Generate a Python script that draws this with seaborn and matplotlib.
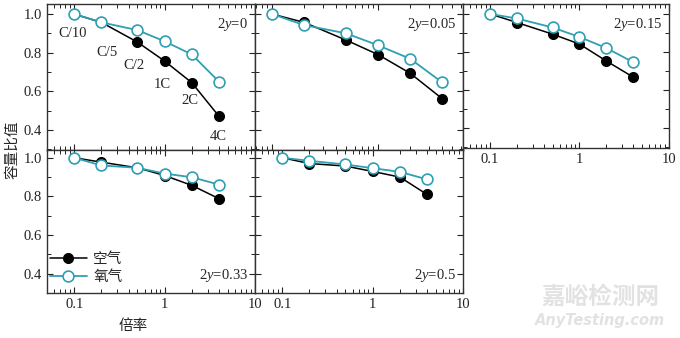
import numpy as np
import pandas as pd
import matplotlib
matplotlib.use("Agg")
import matplotlib.pyplot as plt
import seaborn as sns
from matplotlib.ticker import LogLocator, NullFormatter, FixedLocator, MultipleLocator, FuncFormatter

sns.set_theme(style="ticks")
plt.rcParams['font.family'] = ['Liberation Serif', 'Noto Sans CJK SC', 'DejaVu Sans']
plt.rcParams['mathtext.fontset'] = 'custom'
plt.rcParams['mathtext.rm'] = 'Liberation Serif'
plt.rcParams['mathtext.it'] = 'Liberation Serif:italic'

# ---- data ----
rates = [0.1, 0.2, 0.5, 1, 2, 4]
rate_labels = ["C/10", "C/5", "C/2", "1C", "2C", "4C"]
panel_labels = ["0", "0.05", "0.15", "0.33", "0.5"]
air_y0 = [1.0, 0.957, 0.855, 0.757, 0.645, 0.471]
oxy_y0 = [1.0, 0.957, 0.917, 0.859, 0.791, 0.650]
air_y005 = [1.0, 0.957, 0.865, 0.790, 0.694, 0.563]
oxy_y005 = [1.0, 0.943, 0.900, 0.838, 0.769, 0.647]
air_y015 = [1.0, 0.955, 0.894, 0.842, 0.753, 0.668]
oxy_y015 = [1.0, 0.976, 0.929, 0.879, 0.821, 0.746]
air_y033 = [1.0, 0.977, 0.948, 0.908, 0.857, 0.788]
oxy_y033 = [1.0, 0.960, 0.948, 0.918, 0.899, 0.861]
air_y05 = [1.0, 0.970, 0.957, 0.929, 0.900, 0.810]
oxy_y05 = [1.0, 0.984, 0.965, 0.946, 0.927, 0.888]
series_names = ["空气", "氧气"]

air_all = [air_y0, air_y005, air_y015, air_y033, air_y05]
oxy_all = [oxy_y0, oxy_y005, oxy_y015, oxy_y033, oxy_y05]

W, H = 680, 338
fig = plt.figure(figsize=(W / 100, H / 100), dpi=100)

def rect(l, t, r, b):
    return [l / W, 1 - b / H, (r - l) / W, (b - t) / H]

rects = [rect(47, 4, 255, 150), rect(255, 4, 463, 150), rect(463, 4, 669, 148),
         rect(47, 150, 255, 293), rect(255, 150, 463, 293)]
xlims = [(0.05, 10), (0.069, 6.3), (0.05, 10), (0.05, 10), (0.05, 10)]
ylims = [(0.297, 1.052), (0.297, 1.052), (0.297, 1.052), (0.30, 1.04), (0.30, 1.04)]
show_xlab = [False, False, True, True, True]
show_ylab = [True, False, False, True, False]

teal = "#2f9fb2"
fs = 10.5

for i in range(5):
    ax = fig.add_axes(rects[i])
    df = pd.DataFrame({"rate": rates * 2,
                       "val": air_all[i] + oxy_all[i],
                       "gas": [series_names[0]] * 6 + [series_names[1]] * 6})
    sns.lineplot(data=df[df.gas == series_names[0]], x="rate", y="val", ax=ax,
                 color="black", marker="o", markersize=7.2, markerfacecolor="black",
                 markeredgecolor="black", lw=1.1, label=series_names[0], zorder=2)
    sns.lineplot(data=df[df.gas == series_names[1]], x="rate", y="val", ax=ax,
                 color=teal, marker="o", markersize=7.8, markerfacecolor="white",
                 markeredgecolor=teal, markeredgewidth=1.2, lw=1.3,
                 label=series_names[1], zorder=3)
    ax.set_xscale("log")
    ax.set_xlim(*xlims[i])
    ax.set_ylim(*ylims[i])
    ax.set_xlabel("")
    ax.set_ylabel("")
    ax.xaxis.set_major_locator(FixedLocator([0.1, 1, 10]))
    ax.xaxis.set_minor_locator(LogLocator(base=10, subs=np.arange(2, 10)))
    ax.xaxis.set_minor_formatter(NullFormatter())
    ax.xaxis.set_major_formatter(FuncFormatter(lambda v, p: "%g" % v))
    ax.yaxis.set_major_locator(MultipleLocator(0.2))
    ax.yaxis.set_minor_locator(MultipleLocator(0.1))
    ax.yaxis.set_major_formatter(FuncFormatter(lambda v, p: "%.1f" % v))
    ax.tick_params(which="both", direction="in", top=True, right=True,
                   labelsize=fs, colors="#222222")
    ax.tick_params(which="major", length=4, width=0.8)
    ax.tick_params(which="minor", length=3, width=0.7)
    if not show_xlab[i]:
        ax.tick_params(axis="x", which="both", labelbottom=False)
    if not show_ylab[i]:
        ax.tick_params(axis="y", which="both", labelleft=False)
    for s in ax.spines.values():
        s.set_linewidth(1.0)
        s.set_color("#333333")
    ax.set_facecolor("white")
    lab = r"2$\it{y}$=" + panel_labels[i]
    if i < 3:
        ax.text(0.965, 0.86, lab, transform=ax.transAxes, ha="right", va="center",
                fontsize=fs)
    else:
        ax.text(0.965, 0.12, lab, transform=ax.transAxes, ha="right", va="center",
                fontsize=fs)
    if i == 3:
        ax.legend(loc="lower left", bbox_to_anchor=(-0.03, 0.0), frameon=False,
                  fontsize=fs, handlelength=2.6, handletextpad=0.4,
                  labelspacing=0.3, borderaxespad=0.2)
    else:
        ax.get_legend().remove()
    if i == 0:
        # label offsets in pixels (dx right, dy down)
        offs = [(-2, 19), (6, 30), (-3, 23), (-2, 23), (-2, 18), (-1, 20)]
        for r, v, t, (dx, dy) in zip(rates, air_all[0], rate_labels, offs):
            ax.annotate(t, xy=(r, v), xytext=(dx * 0.72, -dy * 0.72),
                        textcoords="offset points", ha="center", va="center",
                        fontsize=fs)

fig.text(12 / W, 1 - 150 / H, "容量比值", rotation=90, ha="center", va="center",
         fontsize=fs, family=['Noto Sans CJK SC'])
fig.text(133 / W, 1 - 326 / H, "倍率", ha="center", va="center", fontsize=fs,
         family=['Noto Sans CJK SC'])

# watermark
fig.text(600 / W, 1 - 297 / H, "嘉峪检测网", ha="center", va="center", fontsize=17,
         color="#e2e2e2", family=['Noto Sans CJK SC'], weight="bold")
fig.text(600 / W, 1 - 320 / H, "AnyTesting.com", ha="center", va="center",
         fontsize=10.5, color="#e2e2e2", style="italic", family=['DejaVu Sans'],
         weight="bold")

fig.savefig("out.png", dpi=100, facecolor="white")
